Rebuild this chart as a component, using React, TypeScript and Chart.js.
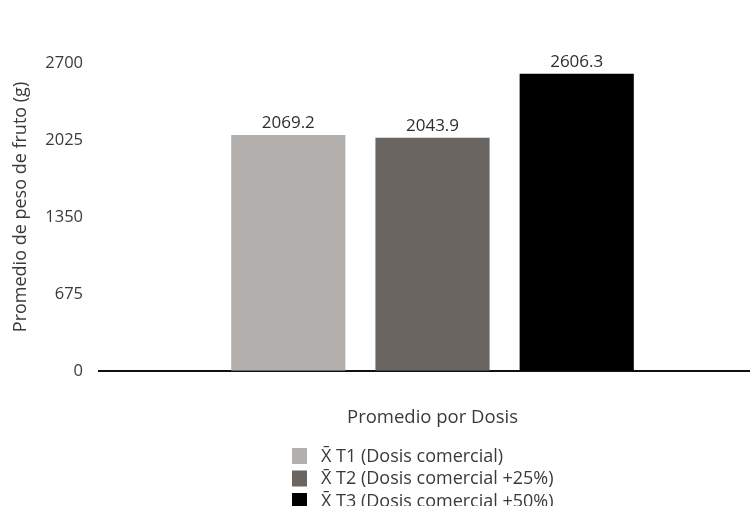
import React, { useEffect, useRef } from "react";
import { Chart, registerables } from "chart.js";

Chart.register(...registerables);

// Mean fruit weight per dose treatment
const categories = ["Promedio por Dosis"];
const seriesLabels = [
  "X\u0304 T1 (Dosis comercial)",
  "X\u0304 T2 (Dosis comercial +25%)",
  "X\u0304 T3 (Dosis comercial +50%)",
];
const seriesValues = [2069.2, 2043.9, 2606.3];
const seriesColors = ["#b3afac", "#6b6562", "#000000"];
const yTicks = [0, 675, 1350, 2025, 2700];
const yTitle = "Promedio de peso de fruto (g)";

const FONT = "'Open Sans', 'DejaVu Sans', sans-serif";
const TEXT = "#3a3a3a";

// Value labels above each bar
const valueLabels = {
  id: "valueLabels",
  afterDatasetsDraw(chart: any) {
    const ctx = chart.ctx;
    ctx.save();
    ctx.font = `17px ${FONT}`;
    ctx.fillStyle = "#2e2e2e";
    ctx.textAlign = "center";
    ctx.textBaseline = "alphabetic";
    chart.data.datasets.forEach((ds: any, i: number) => {
      const meta = chart.getDatasetMeta(i);
      meta.data.forEach((el: any, j: number) => {
        ctx.fillText(String(ds.data[j]), el.x, el.y - 7);
      });
    });
    ctx.restore();
  },
};

// Rotated y-axis title and stacked legend below the axis title
const decorations = {
  id: "decorations",
  afterDraw(chart: any) {
    const ctx = chart.ctx;
    ctx.save();
    ctx.font = `18px ${FONT}`;
    ctx.fillStyle = TEXT;
    ctx.textAlign = "center";
    ctx.textBaseline = "middle";
    ctx.translate(21, 207);
    ctx.rotate(-Math.PI / 2);
    ctx.fillText(yTitle, 0, 0);
    ctx.restore();

    ctx.save();
    ctx.font = `18px ${FONT}`;
    ctx.textAlign = "left";
    ctx.textBaseline = "middle";
    const boxX = 292;
    const top0 = 448;
    const step = 22.5;
    chart.data.datasets.forEach((ds: any, i: number) => {
      const y = top0 + i * step;
      ctx.fillStyle = ds.backgroundColor;
      ctx.fillRect(boxX, y, 15, 16);
      ctx.fillStyle = TEXT;
      ctx.fillText(ds.label, boxX + 29, y + 8.5);
    });
    ctx.restore();
  },
};

export default function App() {
  const canvasRef = useRef<HTMLCanvasElement | null>(null);

  useEffect(() => {
    if (!canvasRef.current) return;
    const chart = new Chart(canvasRef.current, {
      type: "bar",
      data: {
        labels: categories,
        datasets: seriesValues.map((v, i) => ({
          label: seriesLabels[i],
          data: [v],
          backgroundColor: seriesColors[i],
          borderWidth: 0,
          categoryPercentage: 0.6486,
          barPercentage: 0.7917,
        })),
      },
      options: {
        responsive: false,
        animation: false,
        layout: { padding: { top: 63, bottom: 77, left: 0, right: 0 } },
        plugins: {
          legend: { display: false },
          tooltip: { enabled: false },
        },
        scales: {
          x: {
            grid: { display: false, drawTicks: false },
            border: { display: true, color: "#111111", width: 2 },
            ticks: { display: false },
            title: {
              display: true,
              text: categories[0],
              color: TEXT,
              font: { family: FONT, size: 18.5 },
              padding: { top: 36, bottom: 0 },
            },
          },
          y: {
            min: 0,
            max: 2700,
            afterFit(scale: any) {
              scale.width = 99;
            },
            afterBuildTicks(scale: any) {
              scale.ticks = yTicks.map((v) => ({ value: v }));
            },
            grid: { display: false, drawTicks: false },
            border: { display: false },
            ticks: {
              color: TEXT,
              font: { family: FONT, size: 16.5 },
              padding: 16,
              callback: (v: any) => String(v),
            },
          },
        },
      },
      plugins: [valueLabels, decorations],
    });
    return () => chart.destroy();
  }, []);

  return (
    <div
      style={{
        position: "absolute",
        left: 0,
        top: 0,
        width: 750,
        height: 506,
        overflow: "hidden",
        background: "#ffffff",
      }}
    >
      <canvas ref={canvasRef} width={766} height={506} />
    </div>
  );
}
